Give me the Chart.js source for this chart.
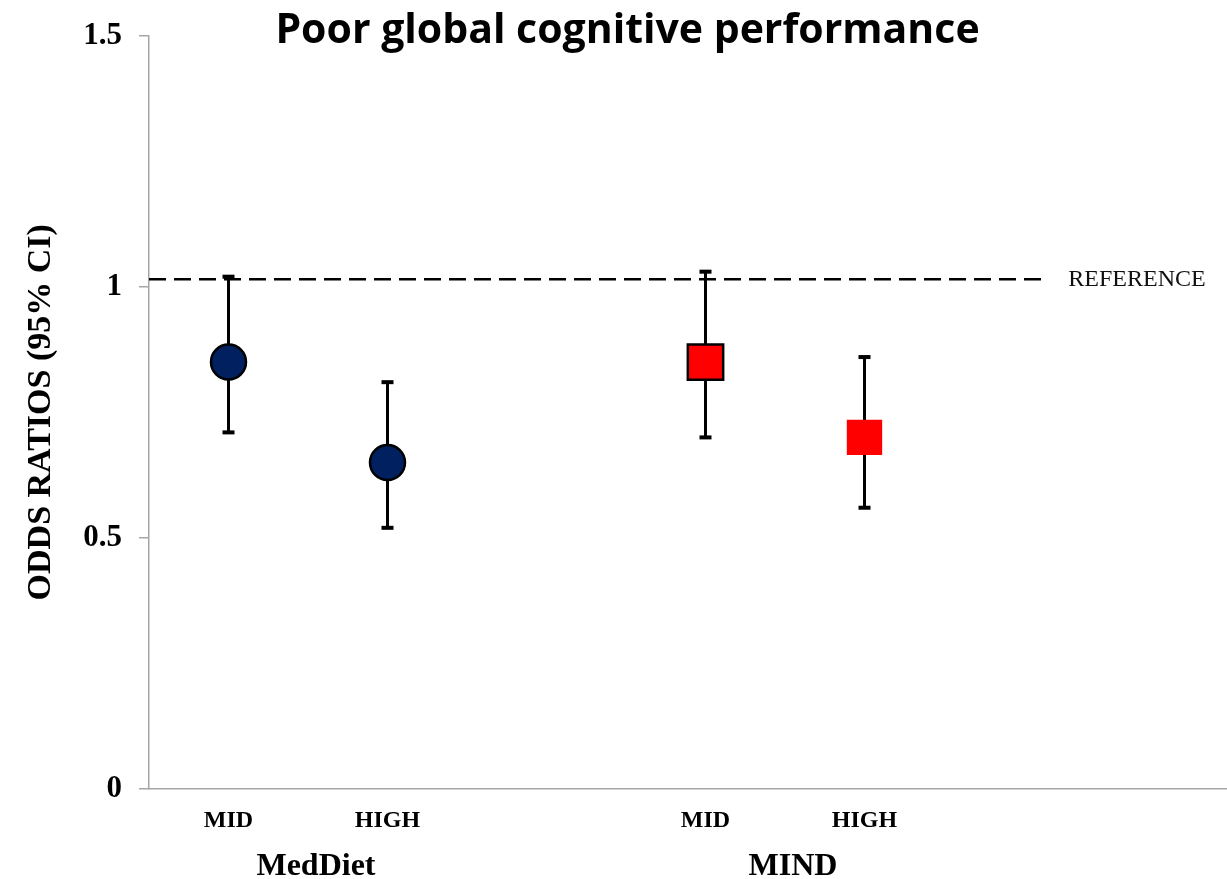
<!DOCTYPE html>
<html>
<head>
<meta charset="utf-8">
<script src="https://cdn.jsdelivr.net/npm/chart.js@4.4.0/dist/chart.umd.min.js"></script>
<style>
  body { margin: 0; background: #fff; }
  #oddsChart { display: block; }
</style>
</head>
<body>
<canvas id="oddsChart" width="1227" height="879"></canvas>
<script>
// data
const chartTitle = 'Poor global cognitive performance';
const groupNames = ['MedDiet', 'MIND'];
const levelLabels = ['MID', 'HIGH'];
const medDietX = [1, 2];
const mindX = [4, 5];
const medDietOR = [0.85, 0.65];
const medDietLow = [0.71, 0.52];
const medDietHigh = [1.02, 0.81];
const mindOR = [0.85, 0.70];
const mindLow = [0.70, 0.56];
const mindHigh = [1.03, 0.86];
const referenceOR = 1.015;
const referenceSpan = [0.5, 6.15];
const yTicks = [0, 0.5, 1, 1.5];

const serif = "'Liberation Serif', 'Times New Roman', serif";
const axisGrey = '#a6a6a6';

const allX = medDietX.concat(mindX);
const allLevels = levelLabels.concat(levelLabels);

// error bars, drawn under the markers
const errorBars = {
  id: 'errorBars',
  beforeDatasetsDraw(chart) {
    const ctx = chart.ctx;
    const xs = chart.scales.x, ys = chart.scales.y;
    const sets = [[medDietX, medDietLow, medDietHigh], [mindX, mindLow, mindHigh]];
    ctx.save();
    ctx.strokeStyle = '#000';
    ctx.fillStyle = '#000';
    ctx.lineWidth = 3;
    sets.forEach(([xv, lo, hi]) => {
      xv.forEach((v, i) => {
        const px = xs.getPixelForValue(v);
        const top = ys.getPixelForValue(hi[i]);
        const bot = ys.getPixelForValue(lo[i]);
        ctx.beginPath();
        ctx.moveTo(px, top);
        ctx.lineTo(px, bot);
        ctx.stroke();
        ctx.fillRect(px - 6, top - 2, 12, 4);
        ctx.fillRect(px - 6, bot - 2, 12, 4);
      });
    });
    ctx.restore();
  }
};

// title, group names and reference label
const extraText = {
  id: 'extraText',
  afterDraw(chart) {
    const ctx = chart.ctx;
    const xs = chart.scales.x, ys = chart.scales.y;
    ctx.save();
    ctx.fillStyle = '#000';
    ctx.textAlign = 'center';
    ctx.textBaseline = 'alphabetic';
    ctx.font = "bold 41px 'Open Sans', Lato, sans-serif";
    ctx.fillText(chartTitle, chart.width / 2 + 14, 43);

    ctx.font = 'bold 32px ' + serif;
    [medDietX, mindX].forEach((xv, g) => {
      const mid = (xs.getPixelForValue(xv[0]) + xs.getPixelForValue(xv[xv.length - 1])) / 2;
      ctx.fillText(groupNames[g], mid + 8, 875);
    });

    ctx.font = '24px ' + serif;
    ctx.textAlign = 'left';
    ctx.textBaseline = 'middle';
    ctx.fillStyle = '#111';
    ctx.fillText('REFERENCE', xs.getPixelForValue(referenceSpan[1]) + 21, ys.getPixelForValue(referenceOR) + 1);
    ctx.restore();
  }
};

const ctx_odds = document.getElementById('oddsChart').getContext('2d');
const oddsChart = new Chart(ctx_odds, {
  type: 'scatter',
  data: {
    datasets: [{
      type: 'line',
      label: 'Reference',
      data: referenceSpan.map(x => ({ x: x, y: referenceOR })),
      borderColor: '#000',
      borderWidth: 2.5,
      borderDash: [17, 8],
      pointRadius: 0,
      fill: false
    }, {
      label: groupNames[0],
      data: medDietX.map((x, i) => ({ x: x, y: medDietOR[i] })),
      pointStyle: 'circle',
      pointRadius: 17.5,
      backgroundColor: '#002060',
      borderColor: '#000',
      borderWidth: 2.5
    }, {
      label: groupNames[1],
      data: mindX.map((x, i) => ({ x: x, y: mindOR[i] })),
      pointStyle: 'rect',
      pointRadius: 25,
      backgroundColor: '#ff0000',
      borderColor: '#000',
      borderWidth: [2.5, 0]
    }]
  },
  options: {
    responsive: false,
    maintainAspectRatio: false,
    animation: false,
    layout: { autoPadding: false, padding: { top: 34, left: 0, right: 0, bottom: 0 } },
    plugins: {
      legend: { display: false },
      tooltip: { enabled: false }
    },
    scales: {
      x: {
        type: 'linear',
        min: 0.5,
        max: 7.28,
        afterBuildTicks: (scale) => { scale.ticks = allX.map(v => ({ value: v })); },
        afterFit: (scale) => { scale.height = 90; },
        ticks: {
          autoSkip: false,
          maxRotation: 0,
          padding: 17,
          color: '#000',
          font: { family: serif, size: 24, weight: 'bold' },
          callback: (v) => allLevels[allX.indexOf(v)]
        },
        grid: { display: true, drawOnChartArea: false, drawTicks: false, tickLength: 0 },
        border: { display: true, color: axisGrey, width: 1.5 }
      },
      y: {
        min: 0,
        max: 1.5,
        afterBuildTicks: (scale) => { scale.ticks = yTicks.map(v => ({ value: v })); },
        afterFit: (scale) => { scale.width = 149; },
        ticks: {
          padding: 17,
          color: '#000',
          font: { family: serif, size: 31, weight: 'bold' },
          callback: (v) => String(v)
        },
        grid: { display: true, drawOnChartArea: false, tickLength: 10, color: axisGrey, lineWidth: 1.5 },
        border: { display: true, color: axisGrey, width: 1.5 },
        title: {
          display: true,
          text: 'ODDS RATIOS (95% CI)',
          color: '#000',
          font: { family: serif, size: 34, weight: 'bold' },
          padding: { top: 21, bottom: 0 }
        }
      }
    }
  },
  plugins: [errorBars, extraText]
});
</script>
</body>
</html>
